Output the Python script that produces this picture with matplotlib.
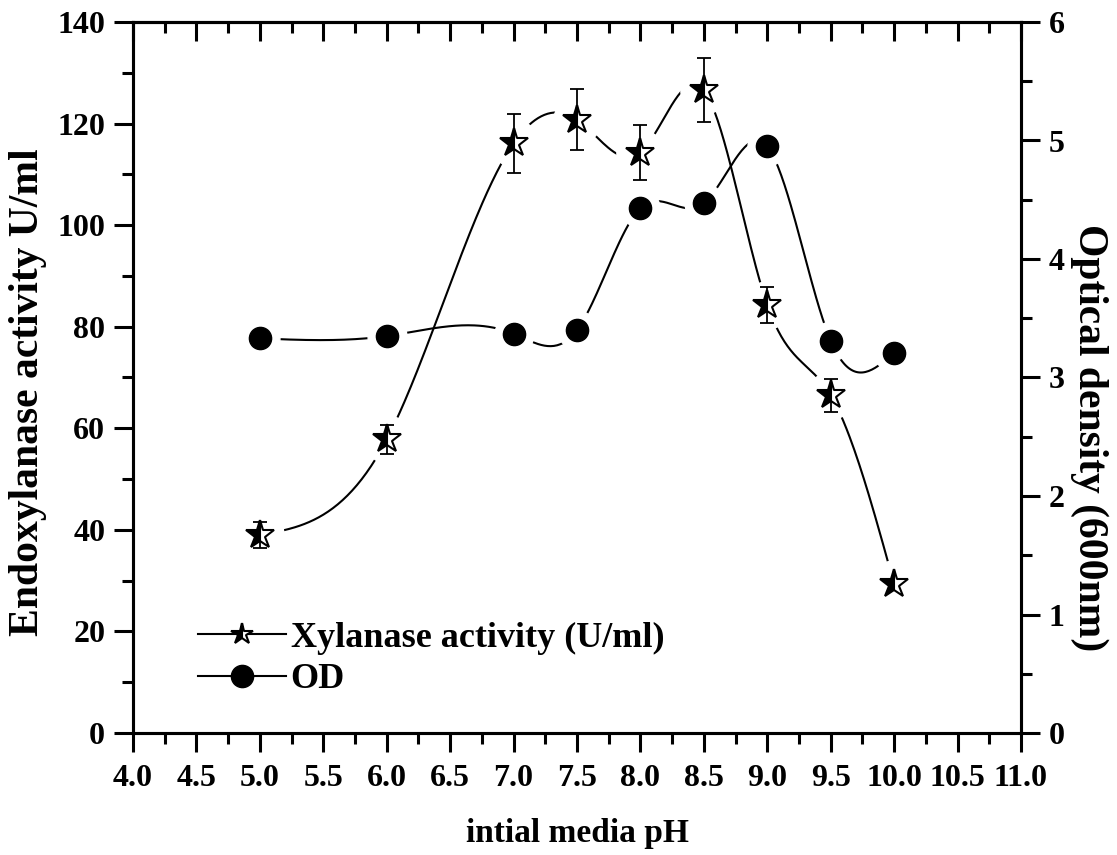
import numpy as np
import matplotlib
matplotlib.use('Agg')
import matplotlib.pyplot as plt
from matplotlib.lines import Line2D
from matplotlib.ticker import MultipleLocator, FormatStrFormatter

plt.rcParams.update({'font.family': 'Liberation Serif', 'font.weight': 'bold',
                     'axes.labelweight': 'bold', 'font.size': 23, 'axes.linewidth': 2.2})

# data
ph = [5.0, 6.0, 7.0, 7.5, 8.0, 8.5, 9.0, 9.5, 10.0]
xylanase = [39.0, 57.8, 116.1, 120.8, 114.3, 126.6, 84.3, 66.5, 29.3]
xylanase_err = [2.5, 2.8, 5.8, 6.0, 5.5, 6.3, 3.6, 3.2, 1.0]
od = [3.33, 3.35, 3.37, 3.40, 4.43, 4.47, 4.95, 3.31, 3.21]


def spline_curve(x, y, num=400):
    # natural cubic spline, like Origin's "spline" connect
    x = np.asarray(x, float)
    y = np.asarray(y, float)
    n = len(x)
    h = np.diff(x)
    A = np.zeros((n, n))
    b = np.zeros(n)
    A[0, 0] = 1
    A[-1, -1] = 1
    for i in range(1, n - 1):
        A[i, i - 1] = h[i - 1]
        A[i, i] = 2 * (h[i - 1] + h[i])
        A[i, i + 1] = h[i]
        b[i] = 6 * ((y[i + 1] - y[i]) / h[i] - (y[i] - y[i - 1]) / h[i - 1])
    M = np.linalg.solve(A, b)
    xs = np.linspace(x[0], x[-1], num)
    idx = np.clip(np.searchsorted(x, xs) - 1, 0, n - 2)
    x0, x1 = x[idx], x[idx + 1]
    hh = x1 - x0
    t0, t1 = x1 - xs, xs - x0
    ys = (M[idx] * t0 ** 3 / (6 * hh) + M[idx + 1] * t1 ** 3 / (6 * hh)
          + (y[idx] / hh - M[idx] * hh / 6) * t0 + (y[idx + 1] / hh - M[idx + 1] * hh / 6) * t1)
    return xs, ys


fig = plt.figure(figsize=(11.17, 8.55), dpi=100)
ax = fig.add_axes([133 / 1117, 122 / 855, 888 / 1117, 711 / 855])
ax2 = ax.twinx()
ax.set_zorder(ax2.get_zorder() + 1)
ax.patch.set_visible(False)

star_kw = dict(marker='*', ms=21, fillstyle='left', markerfacecolor='black',
               markerfacecoloralt='white', markeredgecolor='black', markeredgewidth=1.5)
dot_kw = dict(marker='o', ms=16, markerfacecolor='black', markeredgecolor='black')

# Xylanase activity
xs, ys = spline_curve(ph, xylanase)
ax.plot(xs, ys, color='black', lw=1.5, zorder=2)
ax.plot(ph, xylanase, ls='none', marker='o', ms=34, color='white', zorder=3)
ax.errorbar(ph, xylanase, yerr=xylanase_err, fmt='none', ecolor='black',
            elinewidth=1.3, capsize=5, capthick=1.3, zorder=4)
ax.plot(ph, xylanase, ls='none', zorder=5, **star_kw)

# OD
xs, ys = spline_curve(ph, od)
ax2.plot(xs, ys, color='black', lw=1.5, zorder=2)
ax2.plot(ph, od, ls='none', marker='o', ms=28, color='white', zorder=3)
ax2.plot(ph, od, ls='none', zorder=5, **dot_kw)

ax.set_xlim(4, 11)
ax.set_ylim(0, 140)
ax2.set_ylim(0, 6)
ax.xaxis.set_major_locator(MultipleLocator(0.5))
ax.xaxis.set_minor_locator(MultipleLocator(0.25))
ax.xaxis.set_major_formatter(FormatStrFormatter('%.1f'))
ax.yaxis.set_major_locator(MultipleLocator(20))
ax.yaxis.set_minor_locator(MultipleLocator(10))
ax2.yaxis.set_major_locator(MultipleLocator(1))
ax2.yaxis.set_minor_locator(MultipleLocator(0.5))

ax.tick_params(which='major', length=14, width=2.2, labelsize=23)
ax.tick_params(which='minor', length=8, width=2.2)
ax.tick_params(axis='x', pad=8)
ax.tick_params(axis='y', pad=6)
ax2.tick_params(which='major', length=14, width=2.2, labelsize=23, pad=6)
ax2.tick_params(which='minor', length=8, width=2.2)

top = ax.secondary_xaxis('top')
top.xaxis.set_major_locator(MultipleLocator(0.5))
top.xaxis.set_minor_locator(MultipleLocator(0.25))
top.tick_params(which='both', direction='in', labeltop=False, width=2.2)
top.tick_params(which='major', length=14)
top.tick_params(which='minor', length=8)

ax.set_ylabel('Endoxylanase activity U/ml', fontsize=30, va='center')
ax.yaxis.set_label_coords(-0.118, 0.48)
ax2.set_ylabel('Optical density (600nm)', fontsize=30, rotation=270, va='center', ha='center')
ax2.yaxis.set_label_coords(1.0766, 0.415)
ax.set_xlabel('intial media pH', fontsize=24, va='center')
ax.xaxis.set_label_coords(0.5, -0.141)

handles = [Line2D([], [], color='black', lw=1.5, **dict(star_kw, ms=16)),
           Line2D([], [], color='black', lw=1.5, **dot_kw)]
ax.legend(handles, ['Xylanase activity (U/ml)', 'OD'], loc='center left',
          bbox_to_anchor=(0.073, 0.104), frameon=False, fontsize=26,
          handlelength=2.45, handletextpad=0.12, labelspacing=0.22,
          borderpad=0, borderaxespad=0)

fig.savefig('out.png', dpi=100)
